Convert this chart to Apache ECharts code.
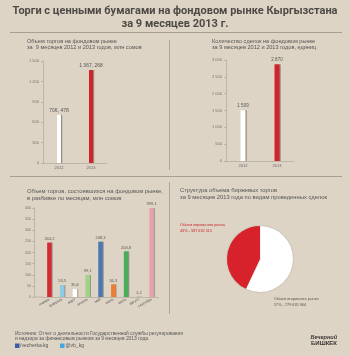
<!DOCTYPE html>
<html>
<head>
<meta charset="utf-8">
<script src="https://cdn.jsdelivr.net/npm/echarts@6/dist/echarts.min.js"></script>
<style>
  html, body { margin: 0; padding: 0; background: #ded4c5; }
  #main { width: 350px; height: 356px; }
</style>
</head>
<body>
<div id="main"></div>
<script>
// данные
var years = ['2012', '2013'];
var volumeByYear = [706.478, 1367.268];      // млн сомов
var dealsByYear = [1509, 2870];              // единиц
var months = ['январь', 'февраль', 'март', 'апрель', 'май', 'июнь', 'июль', 'август', 'сентябрь'];
var volumeByMonth = [244.2, 53.5, 35.6, 99.1, 248.3, 56.3, 204.8, 1.2, 399.1];
var monthColors = ['#d42a30', '#8fcbe6', '#ffffff', '#a3d187', '#4a78b2', '#f07c30', '#4aad5b', '#b5aa9a', '#e9a2ad'];
var marketNames = ['Объем вторичного рынка', 'Объем первичного рынка'];
var marketValues = [779635964, 587632515];
var marketColors = ['#ffffff', '#d8222b'];

var font = 'Liberation Sans, sans-serif';
var txt = '#555';
var axisCol = '#a8a093';

function sp(n) {
    return String(n).replace(/\B(?=(\d{3})+(?!\d))/g, ' ');
}
function fmtMln(v) {
    var i = Math.floor(v);
    var f = Math.round((v - i) * 1000);
    return sp(i) + ', ' + f;
}

var myChart = echarts.init(document.getElementById('main'));

var yBase = {
    axisLine: {show: true, lineStyle: {color: axisCol, width: 0.6}},
    axisTick: {show: true, length: 2, lineStyle: {color: axisCol, width: 0.6}},
    splitLine: {show: false},
    axisLabel: {fontSize: 4, color: '#7a7268', fontFamily: font, margin: 4, formatter: function (v) { return sp(v); }}
};
var xBase = {
    type: 'category',
    axisLine: {lineStyle: {color: axisCol, width: 0.6}},
    axisTick: {show: false},
    axisLabel: {fontSize: 4, color: '#666', fontFamily: font, margin: 3}
};

var total = marketValues[0] + marketValues[1];
function pct(i) { return Math.round(marketValues[i] / total * 100) + '% - ' + sp(marketValues[i]); }

var option = {
    backgroundColor: '#ded4c5',
    animation: false,
    grid: [
        {left: 43, top: 61, width: 64, height: 102},
        {left: 226, top: 60, width: 68, height: 101},
        {left: 43, top: 208, width: 115, height: 89}
    ],
    xAxis: [
        Object.assign({}, xBase, {gridIndex: 0, data: years}),
        Object.assign({}, xBase, {gridIndex: 1, data: years}),
        Object.assign({}, xBase, {gridIndex: 2, data: months,
            axisLabel: {fontSize: 3.6, color: '#555', fontFamily: font, rotate: 30, margin: 2, interval: 0}})
    ],
    yAxis: [
        Object.assign({}, yBase, {gridIndex: 0, type: 'value', min: 0, max: 1500, interval: 300}),
        Object.assign({}, yBase, {gridIndex: 1, type: 'value', min: 0, max: 3000, interval: 500}),
        Object.assign({}, yBase, {gridIndex: 2, type: 'value', min: 0, max: 400, interval: 50, offset: 9,
            axisLabel: {fontSize: 3.6, color: '#7a7268', fontFamily: font, margin: 3}})
    ],
    series: [
        {
            type: 'bar', xAxisIndex: 0, yAxisIndex: 0, barWidth: 4,
            data: volumeByYear.map(function (v, i) {
                return {value: v, itemStyle: {color: i ? '#d2232b' : '#ffffff'}};
            }),
            itemStyle: {shadowColor: 'rgba(0,0,0,0.35)', shadowOffsetX: 1.2, shadowBlur: 0},
            label: {show: true, position: 'top', distance: 2, fontSize: 5, color: txt, fontFamily: font,
                formatter: function (p) { return fmtMln(p.value); }}
        },
        {
            type: 'bar', xAxisIndex: 1, yAxisIndex: 1, barWidth: 5,
            data: dealsByYear.map(function (v, i) {
                return {value: v, itemStyle: {color: i ? '#d2232b' : '#ffffff'}};
            }),
            itemStyle: {shadowColor: 'rgba(0,0,0,0.35)', shadowOffsetX: 1.2, shadowBlur: 0},
            label: {show: true, position: 'top', distance: 2, fontSize: 4.5, color: txt, fontFamily: font,
                formatter: function (p) { return sp(p.value); }}
        },
        {
            type: 'bar', xAxisIndex: 2, yAxisIndex: 2, barWidth: 4.5,
            data: volumeByMonth.map(function (v, i) {
                return {value: v, itemStyle: {color: monthColors[i]}};
            }),
            itemStyle: {shadowColor: 'rgba(0,0,0,0.3)', shadowOffsetX: 1, shadowBlur: 0},
            label: {show: true, position: 'top', distance: 2, fontSize: 4, color: txt, fontFamily: font,
                formatter: function (p) { return String(p.value).replace('.', ','); }}
        },
        {
            type: 'pie', center: [260, 259], radius: 33, startAngle: 90,
            label: {show: false}, labelLine: {show: false},
            itemStyle: {shadowColor: 'rgba(0,0,0,0.2)', shadowBlur: 2},
            data: marketValues.map(function (v, i) {
                return {name: marketNames[i], value: v, itemStyle: {color: marketColors[i]}};
            })
        }
    ],
    graphic: [
        // заголовок
        {type: 'text', x: 175, y: 11, style: {text: 'Торги с ценными бумагами на фондовом рынке Кыргызстана',
            fill: '#4d4a46', font: 'bold 11px Roboto, sans-serif', align: 'center', verticalAlign: 'middle'}},
        {type: 'text', x: 175, y: 24, style: {text: 'за 9 месяцев 2013 г.',
            fill: '#4d4a46', font: 'bold 11px Roboto, sans-serif', align: 'center', verticalAlign: 'middle'}},
        // разделители
        {type: 'line', shape: {x1: 10, y1: 32.5, x2: 342, y2: 32.5}, style: {stroke: '#8f887e', lineWidth: 0.7}},
        {type: 'line', shape: {x1: 10, y1: 176.5, x2: 342, y2: 176.5}, style: {stroke: '#8f887e', lineWidth: 0.7}},
        {type: 'line', shape: {x1: 169.5, y1: 40, x2: 169.5, y2: 170}, style: {stroke: '#8f887e', lineWidth: 0.6}},
        {type: 'line', shape: {x1: 169.5, y1: 182, x2: 169.5, y2: 314}, style: {stroke: '#8f887e', lineWidth: 0.6}},
        {type: 'line', shape: {x1: 34, y1: 297, x2: 43, y2: 297}, style: {stroke: axisCol, lineWidth: 0.6}},
        // подписи графиков
        {type: 'text', x: 27, y: 38, style: {text: 'Объем торгов на фондовом рынке\nза  9 месяцев 2012 и 2013 годов, млн сомов',
            fill: txt, font: '5.6px ' + font, lineHeight: 6.2}},
        {type: 'text', x: 212, y: 38, style: {text: 'Количество сделок на фондовом рынке\nза 9 месяцев 2012 и 2013 годов, единиц',
            fill: txt, font: '5.6px ' + font, lineHeight: 6.2}},
        {type: 'text', x: 27, y: 188, style: {text: 'Объем торгов, состоявшихся на фондовом рынке,\nв разбивке по месяцам, млн сомов',
            fill: txt, font: '5.8px ' + font, lineHeight: 6.8}},
        {type: 'text', x: 180, y: 187, style: {text: 'Структура объема биржевых торгов\nза 9 месяцев 2013 года по видам проведенных сделок',
            fill: txt, font: '5.8px ' + font, lineHeight: 7}},
        // подписи круговой диаграммы
        {type: 'text', x: 180, y: 222.5, style: {text: marketNames[1] + '\n' + pct(1),
            fill: '#c8232b', font: '3.8px ' + font, lineHeight: 5.8}},
        {type: 'text', x: 274, y: 296.5, style: {text: marketNames[0] + '\n' + pct(0),
            fill: '#5a5550', font: '3.8px ' + font, lineHeight: 5.8}},
        // источник
        {type: 'text', x: 15, y: 330.5, style: {text: 'Источник: Отчет о деятельности Государственной службы регулирования\nи надзора за финансовым рынком за 9 месяцев 2013 года.',
            fill: '#555', font: '4.9px ' + font, lineHeight: 5.6}},
        {type: 'rect', shape: {x: 15, y: 343.5, width: 4.5, height: 4.5}, style: {fill: '#3b5ca0'}},
        {type: 'text', x: 20, y: 346, style: {text: '/vecherka.kg', fill: '#555', font: '5px ' + font, verticalAlign: 'middle'}},
        {type: 'rect', shape: {x: 60, y: 343.5, width: 4.5, height: 4.5}, style: {fill: '#45a8e0'}},
        {type: 'text', x: 65.5, y: 346, style: {text: '@vb_kg', fill: '#555', font: '5px ' + font, verticalAlign: 'middle'}},
        // логотип
        {type: 'text', x: 337, y: 337.5, style: {text: 'Вечерний', fill: '#3a3632', font: 'italic bold 5.5px ' + font, align: 'right', verticalAlign: 'middle'}},
        {type: 'text', x: 337, y: 343, style: {text: 'БИШКЕК', fill: '#3a3632', font: 'bold 6px ' + font, align: 'right', verticalAlign: 'middle'}}
    ]
};
myChart.setOption(option);
</script>
</body>
</html>
